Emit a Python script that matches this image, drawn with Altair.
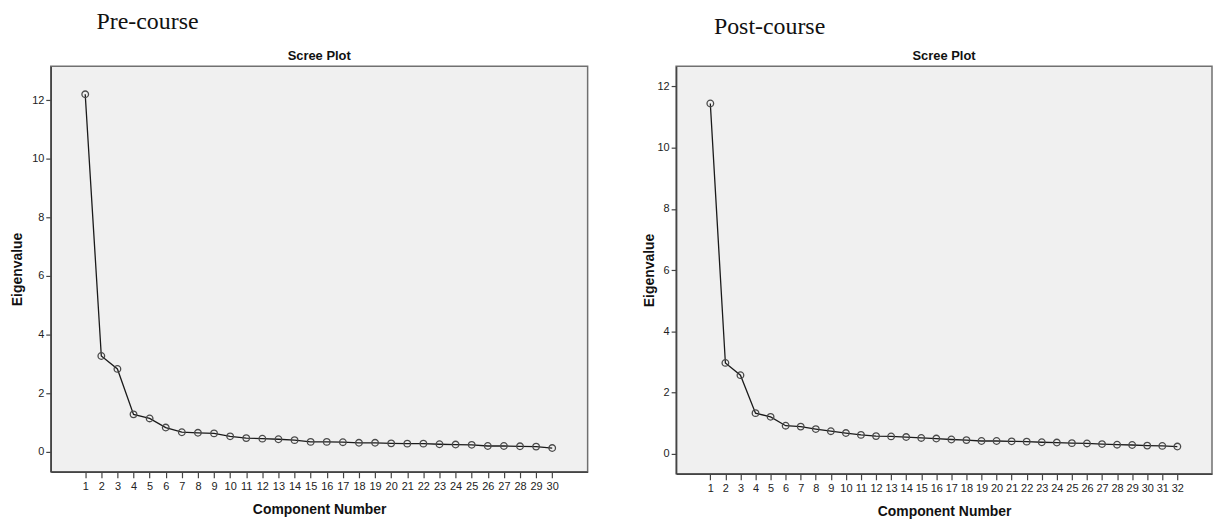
import altair as alt
import pandas as pd

# Eigenvalues
pre_components = list(range(1, 31))
pre_eigen = [12.2, 3.27, 2.83, 1.28, 1.14, 0.83, 0.67, 0.65, 0.63, 0.53,
             0.47, 0.45, 0.43, 0.40, 0.34, 0.34, 0.33, 0.31, 0.31, 0.29,
             0.28, 0.28, 0.26, 0.25, 0.24, 0.20, 0.20, 0.19, 0.18, 0.13]

post_components = list(range(1, 33))
post_eigen = [11.44, 2.97, 2.57, 1.33, 1.21, 0.92, 0.89, 0.81, 0.74, 0.68,
              0.62, 0.58, 0.57, 0.55, 0.52, 0.50, 0.47, 0.45, 0.42, 0.42,
              0.41, 0.40, 0.38, 0.37, 0.35, 0.34, 0.32, 0.30, 0.29, 0.27,
              0.26, 0.24]

y_ticks = [0, 2, 4, 6, 8, 10, 12]
panel_labels = ["Pre-course", "Post-course"]
plot_title = "Scree Plot"

SANS = "Liberation Sans"
SERIF = "Liberation Serif"


def panel(comps, vals, label, width, height, xdom, ydom, label_dx, title_offset, ytitle_x):
    df = pd.DataFrame({"c": comps, "v": vals})
    x = alt.X("c:Q",
              scale=alt.Scale(domain=xdom, nice=False, zero=False),
              axis=alt.Axis(values=comps, title="Component Number", grid=False,
                            tickSize=6, labelOverlap=False, labelPadding=3,
                            titlePadding=11, format="d"))
    y = alt.Y("v:Q",
              scale=alt.Scale(domain=ydom, nice=False, zero=False),
              axis=alt.Axis(values=y_ticks, title="Eigenvalue", grid=False,
                            tickSize=5, labelPadding=2, titleX=ytitle_x,
                            format="d"))
    base = alt.Chart(df).encode(x=x, y=y)
    line = base.mark_line(color="#1a1a1a", strokeWidth=1.3)
    pts = base.mark_point(shape="circle", size=44, filled=False,
                          color="#4a4a4a", strokeWidth=1.3, opacity=1)
    head = alt.Chart(pd.DataFrame({"t": [plot_title]})).mark_text(
        font=SANS, fontSize=13, fontWeight="bold", align="center",
        baseline="alphabetic", color="#111"
    ).encode(x=alt.value(width / 2), y=alt.value(-6), text="t:N")
    return alt.layer(line, pts, head).properties(
        width=width, height=height,
        title=alt.TitleParams(label, font=SERIF, fontSize=24,
                              fontWeight="normal", color="#111",
                              offset=title_offset, anchor="start",
                              frame="group", dx=label_dx))


left = panel(pre_components, pre_eigen, panel_labels[0], 540, 408,
             [-1.14, 32.2], [-0.68, 13.16], 46, 16, -26)
right = panel(post_components, post_eigen, panel_labels[1], 539, 410,
              [-1.27, 34.3], [-0.65, 12.66], 38, 11, -20)

chart = alt.hconcat(left, right, spacing=53).properties(
    padding={"left": 2, "top": 0, "right": 0, "bottom": 0},
    background="white"
).configure_view(
    fill="#f0f0f0", stroke="#707070", strokeWidth=1.5
).configure_axis(
    domainColor="#444444", domainWidth=1.5, tickColor="#444444", tickWidth=1.2,
    labelColor="#222222", labelFont=SANS, labelFontSize=11,
    titleFont=SANS, titleFontSize=14, titleFontWeight="bold", titleColor="#111111"
)

chart.save("out.html", embed_options={"renderer": "svg", "actions": False})
